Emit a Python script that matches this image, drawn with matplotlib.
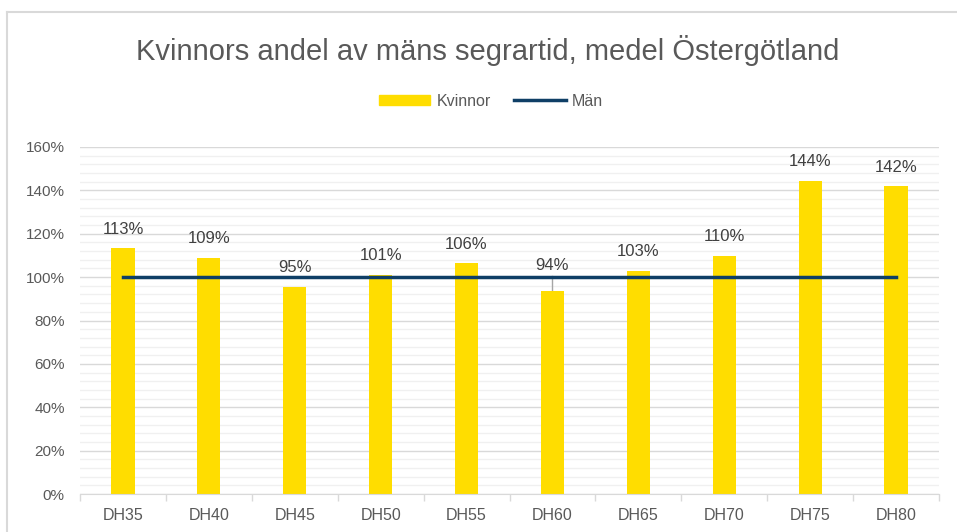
import matplotlib
matplotlib.use("Agg")
from matplotlib import pyplot as plt
from matplotlib.lines import Line2D
from matplotlib.patches import Patch
from matplotlib.ticker import MultipleLocator, PercentFormatter
import numpy as np

categories = ["DH35", "DH40", "DH45", "DH50", "DH55", "DH60", "DH65", "DH70", "DH75", "DH80"]
kvinnor = [113.2, 109.0, 95.4, 101.0, 106.3, 93.6, 103.0, 109.6, 144.4, 141.8]
man = [100, 100, 100, 100, 100, 100, 100, 100, 100, 100]
labels = ["113%", "109%", "95%", "101%", "106%", "94%", "103%", "110%", "144%", "142%"]

plt.rcParams["font.family"] = ["Liberation Sans", "DejaVu Sans"]
text_grey = "#595959"

fig = plt.figure(figsize=(9.57, 5.32), dpi=100)
ax = fig.add_axes([0.0836, 0.0714, 0.8976, 0.6523])

x = np.arange(len(categories))
ax.bar(x, kvinnor, width=0.27, color="#ffdd00", zorder=2)
ax.plot(x, man, color="#0f3f66", linewidth=2.5, zorder=3)

# data labels, the DH60 one sits above the line with a leader
for i, (v, lab) in enumerate(zip(kvinnor, labels)):
    if i == 5:
        y = 100.5
        ax.plot([i, i], [v, y], color="#a6a6a6", linewidth=1, zorder=1)
    else:
        y = v + 4
    ax.text(i, y + 1.5, lab, ha="center", va="bottom", fontsize=12, color="#404040")

ax.set_xlim(-0.5, len(categories) - 0.5)
ax.set_ylim(0, 160)
ax.yaxis.set_major_locator(MultipleLocator(20))
ax.yaxis.set_minor_locator(MultipleLocator(4))
ax.yaxis.set_major_formatter(PercentFormatter(decimals=0))
ax.grid(axis="y", which="major", color="#d9d9d9", linewidth=1, zorder=0)
ax.grid(axis="y", which="minor", color="#f0f0f0", linewidth=1, zorder=0)
ax.set_axisbelow(True)

ax.set_xticks(x)
ax.set_xticklabels(categories)
ax.set_xticks(np.arange(-0.5, len(categories)), minor=True)
ax.tick_params(axis="x", which="major", length=0, pad=10, labelsize=11.5, labelcolor=text_grey)
ax.tick_params(axis="x", which="minor", length=5, color="#d9d9d9", width=1)
ax.tick_params(axis="y", which="both", length=0, pad=11, labelsize=11, labelcolor=text_grey)

for s in ["top", "right", "left"]:
    ax.spines[s].set_visible(False)
ax.spines["bottom"].set_color("#d9d9d9")

fig.text(0.51, 0.906, "Kvinnors andel av mäns segrartid, medel Östergötland",
         ha="center", va="center", fontsize=21, color=text_grey)

handles = [Patch(color="#ffdd00"), Line2D([0], [0], color="#0f3f66", linewidth=2.5)]
fig.legend(handles, ["Kvinnor", "Män"], loc="center", bbox_to_anchor=(0.513, 0.81),
           ncol=2, frameon=False, fontsize=11.5, labelcolor=text_grey,
           handlelength=3.2, handleheight=0.6, columnspacing=1.5, handletextpad=0.4)

# chart frame (left and top edge)
fig.add_artist(Line2D([7.5 / 957, 7.5 / 957], [0, 1 - 12 / 532], color="#d9d9d9", linewidth=1.5))
fig.add_artist(Line2D([7 / 957, 1], [1 - 12 / 532, 1 - 12 / 532], color="#d9d9d9", linewidth=1.5))

fig.savefig("out.png", dpi=100)
